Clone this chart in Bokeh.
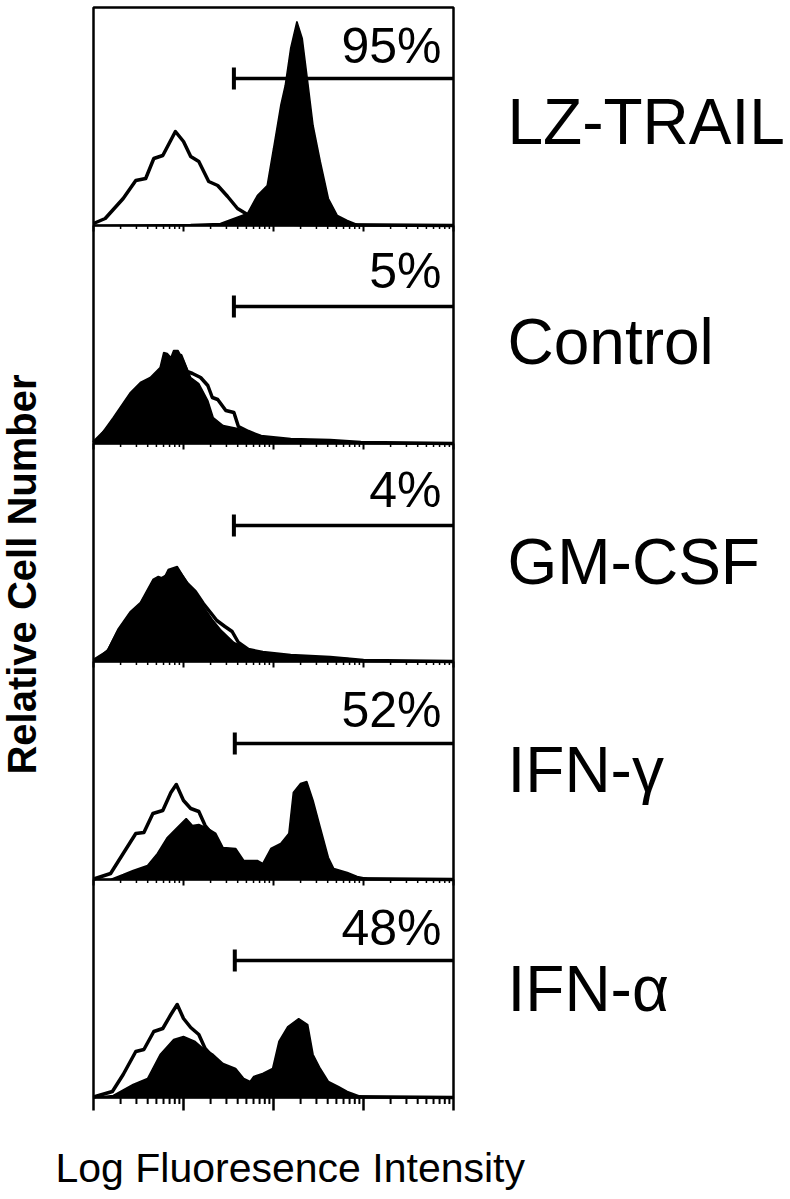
import math
from bokeh.plotting import figure
from bokeh.models import Range1d
from bokeh.core.properties import value
from bokeh.embed import file_html
from bokeh.resources import INLINE

# ---------------- data ----------------
samples = ["LZ-TRAIL", "Control", "GM-CSF", "IFN-\u03b3", "IFN-\u03b1"]
percent_labels = ["95%", "5%", "4%", "52%", "48%"]
y_title = "Relative Cell Number"
x_title = "Log Fluoresence Intensity"

# positions are log10(fluorescence intensity); counts are relative cell numbers
lz_open_pos = [0.00, 0.13, 0.33, 0.47, 0.58, 0.67, 0.77, 0.91, 1.00, 1.08, 1.17, 1.28, 1.38, 1.49, 1.60, 1.71, 1.82, 1.97, 2.30, 4.00]
lz_open_cnt = [2, 7, 27, 45, 47, 67, 70, 94, 84, 69, 64, 44, 40, 29, 17, 11, 5, 2, 1, 0]
lz_fill_pos = [0.00, 1.08, 1.41, 1.71, 1.82, 1.93, 2.00, 2.08, 2.13, 2.19, 2.26, 2.32, 2.38, 2.44, 2.52, 2.61, 2.71, 2.82, 2.93, 4.00]
lz_fill_cnt = [0, 1, 2, 12, 30, 40, 77, 120, 140, 177, 204, 187, 144, 100, 64, 27, 10, 5, 1, 0]

ctl_open_pos = [0.00, 0.19, 0.39, 0.52, 0.66, 0.77, 0.88, 0.97, 1.04, 1.10, 1.19, 1.27, 1.32, 1.38, 1.47, 1.56, 1.61, 1.72, 1.86, 2.19, 2.63, 2.97, 4.00]
ctl_open_cnt = [1, 18, 45, 58, 64, 74, 86, 88, 72, 70, 66, 58, 46, 44, 33, 31, 17, 12, 7, 4, 3, 1, 0]
ctl_fill_pos = [0.00, 0.02, 0.22, 0.41, 0.52, 0.63, 0.74, 0.78, 0.82, 0.86, 0.89, 0.94, 1.00, 1.08, 1.17, 1.27, 1.33, 1.44, 1.60, 1.71, 1.82, 2.08, 2.44, 2.82, 2.97, 4.00]
ctl_fill_cnt = [0, 1, 26, 51, 61, 66, 76, 91, 90, 86, 93, 93, 83, 66, 60, 43, 26, 18, 15, 11, 7, 5, 3.5, 2, 0.5, 0]

gm_open_pos = [0.00, 0.16, 0.27, 0.41, 0.52, 0.66, 0.74, 0.86, 0.93, 1.04, 1.13, 1.22, 1.30, 1.37, 1.46, 1.54, 1.61, 1.72, 1.88, 2.19, 2.63, 3.00, 4.00]
gm_open_cnt = [1, 10, 29, 47, 56, 78, 82, 88, 92, 78, 70, 58, 49, 41, 35, 30, 19, 12, 9, 6, 4, 1, 0]
gm_fill_pos = [0.00, 0.02, 0.16, 0.27, 0.41, 0.52, 0.66, 0.72, 0.78, 0.83, 0.93, 1.04, 1.13, 1.22, 1.32, 1.41, 1.56, 1.71, 1.86, 2.08, 2.44, 2.82, 3.00, 4.00]
gm_fill_cnt = [0, 1, 12, 32, 50, 59, 82, 85, 83, 92, 95, 79, 69, 55, 42, 32, 19, 12, 9, 6, 5, 3, 1, 0]

ifng_open_pos = [0.00, 0.02, 0.19, 0.33, 0.47, 0.56, 0.66, 0.77, 0.86, 0.92, 1.00, 1.08, 1.17, 1.24, 1.33, 1.43, 1.54, 1.69, 1.86, 2.08, 2.52, 4.00]
ifng_open_cnt = [0, 1, 6, 26, 46, 47, 66, 69, 87, 95, 79, 71, 68, 54, 44, 30, 22, 10, 5, 2, 1, 0]
ifng_fill_pos = [0.00, 0.19, 0.33, 0.44, 0.60, 0.71, 0.82, 0.93, 1.03, 1.10, 1.17, 1.27, 1.36, 1.44, 1.58, 1.67, 1.82, 1.88, 1.97, 2.08, 2.17, 2.22, 2.30, 2.37, 2.44, 2.52, 2.61, 2.67, 2.82, 2.93, 3.04, 4.00]
ifng_fill_cnt = [0, 0, 5, 9, 14, 26, 42, 52, 61, 54, 55, 51, 46, 32, 31, 19, 19, 16, 31, 36, 46, 87, 96, 98, 79, 52, 22, 11, 7, 3, 1, 0]

ifna_open_pos = [0.00, 0.02, 0.21, 0.33, 0.47, 0.56, 0.67, 0.77, 0.86, 0.93, 1.00, 1.08, 1.17, 1.24, 1.33, 1.47, 1.63, 1.80, 2.08, 2.52, 4.00]
ifna_open_cnt = [0, 1, 6, 23, 46, 48, 66, 69, 83, 93, 79, 70, 63, 49, 40, 28, 14, 5, 2, 1, 0]
ifna_fill_pos = [0.00, 0.22, 0.44, 0.60, 0.74, 0.89, 1.00, 1.13, 1.22, 1.33, 1.44, 1.58, 1.67, 1.74, 1.78, 1.88, 1.99, 2.06, 2.16, 2.28, 2.38, 2.44, 2.52, 2.61, 2.72, 2.82, 2.97, 4.00]
ifna_fill_cnt = [0, 2, 13, 19, 43, 58, 61, 56, 49, 43, 34, 29, 19, 16, 21, 24, 29, 56, 71, 79, 73, 43, 29, 16, 11, 6, 1, 0]

open_pos = [lz_open_pos, ctl_open_pos, gm_open_pos, ifng_open_pos, ifna_open_pos]
open_cnt = [lz_open_cnt, ctl_open_cnt, gm_open_cnt, ifng_open_cnt, ifna_open_cnt]
fill_pos = [lz_fill_pos, ctl_fill_pos, gm_fill_pos, ifng_fill_pos, ifna_fill_pos]
fill_cnt = [lz_fill_cnt, ctl_fill_cnt, gm_fill_cnt, ifng_fill_cnt, ifna_fill_cnt]

# gate marker (log10 start) and level (cell count) per panel
gate_start_pos = [1.56, 1.56, 1.56, 1.57, 1.57]
gate_level = [147, 137, 136, 136, 137]

major_ticks = [1, 10, 100, 1000, 10000]
minor_ticks = [m * 10 ** d for d in range(4) for m in range(2, 10)]

# ---------------- layout ----------------
PANEL = 218                 # counts per panel (1 count = 1 px)
N = len(samples)
FONT = "Liberation Sans"
W, H = 790, 1199
PX_PER_DECADE = 90.0
LEFT_PX, TOP_PX = 93, 7
BOTTOM_PX = TOP_PX + N * PANEL          # 1097


def xpx(px):
    """intensity value located at a page x pixel"""
    return 10 ** ((px - LEFT_PX) / PX_PER_DECADE)


def ypx(py):
    """data y located at a page y pixel"""
    return BOTTOM_PX - py


def base_shift(size):
    # renderer places the glyph's visual middle at the anchor; shift to put baseline there
    return 0.355 * size


p = figure(width=W, height=H, x_axis_type="log", output_backend="svg",
           toolbar_location=None,
           x_range=Range1d(xpx(0), xpx(W)), y_range=Range1d(ypx(H), ypx(0)),
           min_border=0)
p.min_border_left = p.min_border_right = p.min_border_top = p.min_border_bottom = 0
p.background_fill_color = "white"
p.border_fill_color = "white"
p.outline_line_color = None
p.axis.visible = False
p.grid.visible = False

x_lo, x_hi = major_ticks[0], major_ticks[-1]

for i in range(N):
    base = (N - 1 - i) * PANEL
    ox = [10 ** v for v in open_pos[i]]
    oy = [base + c for c in open_cnt[i]]
    p.line(ox, oy, line_color="black", line_width=3.5, line_join="round")
    fx = [10 ** v for v in fill_pos[i]]
    fy = [base + c for c in fill_cnt[i]]
    p.patch(fx + [fx[-1], fx[0]], fy + [base, base], fill_color="black",
            line_color="black", line_width=1.5)

    g0 = 10 ** gate_start_pos[i]
    gl = base + gate_level[i]
    p.segment(x0=[g0], y0=[gl], x1=[x_hi], y1=[gl], line_color="black", line_width=3.5)
    p.segment(x0=[g0], y0=[gl - 11], x1=[g0], y1=[gl + 11], line_color="black",
              line_width=4)

# panel frame and separators
p.quad(left=[x_lo], right=[x_hi], bottom=[0], top=[N * PANEL], fill_color=None,
       line_color="black", line_width=2.5)
for k in range(1, N):
    p.segment(x0=[x_lo], y0=[k * PANEL], x1=[x_hi], y1=[k * PANEL], line_color="black",
              line_width=2.5)
    p.ray(x=major_ticks, y=[k * PANEL] * len(major_ticks), length=6,
          length_units="screen", angle=-math.pi / 2, line_color="black", line_width=2)
    p.ray(x=minor_ticks, y=[k * PANEL] * len(minor_ticks), length=3.5,
          length_units="screen", angle=-math.pi / 2, line_color="black", line_width=1.5)

# bottom log axis ticks
p.ray(x=major_ticks, y=[0] * len(major_ticks), length=13, length_units="screen",
      angle=-math.pi / 2, line_color="black", line_width=2.5)
p.ray(x=minor_ticks, y=[0] * len(minor_ticks), length=6.5, length_units="screen",
      angle=-math.pi / 2, line_color="black", line_width=2)

# percent labels (baselines in page px)
pct_base_px = [63, 288, 507, 727, 945]
p.text(x=[xpx(441)] * N, y=[ypx(b) + base_shift(50) for b in pct_base_px],
       text=percent_labels, text_font=value(FONT), text_font_size="50px",
       text_align="right", text_baseline="alphabetic", text_color="black")

# sample names
name_base_px = [144, 364, 584, 792, 1011]
p.text(x=[xpx(507)] * N, y=[ypx(b) + base_shift(64) for b in name_base_px],
       text=samples, text_font=value(FONT), text_font_size="64px",
       text_align="left", text_baseline="alphabetic", text_color="black")

# axis titles
p.text(x=[xpx(36 - base_shift(40))], y=[ypx(574)], text=[y_title], angle=math.pi / 2,
       text_font=value(FONT), text_font_size="40px", text_font_style="bold",
       text_align="center", text_baseline="alphabetic", text_color="black")
p.text(x=[xpx(55)], y=[ypx(1182) + base_shift(41)], text=[x_title],
       text_font=value(FONT), text_font_size="41px",
       text_align="left", text_baseline="alphabetic", text_color="black")

open("out.html", "w").write(file_html(p, INLINE))
